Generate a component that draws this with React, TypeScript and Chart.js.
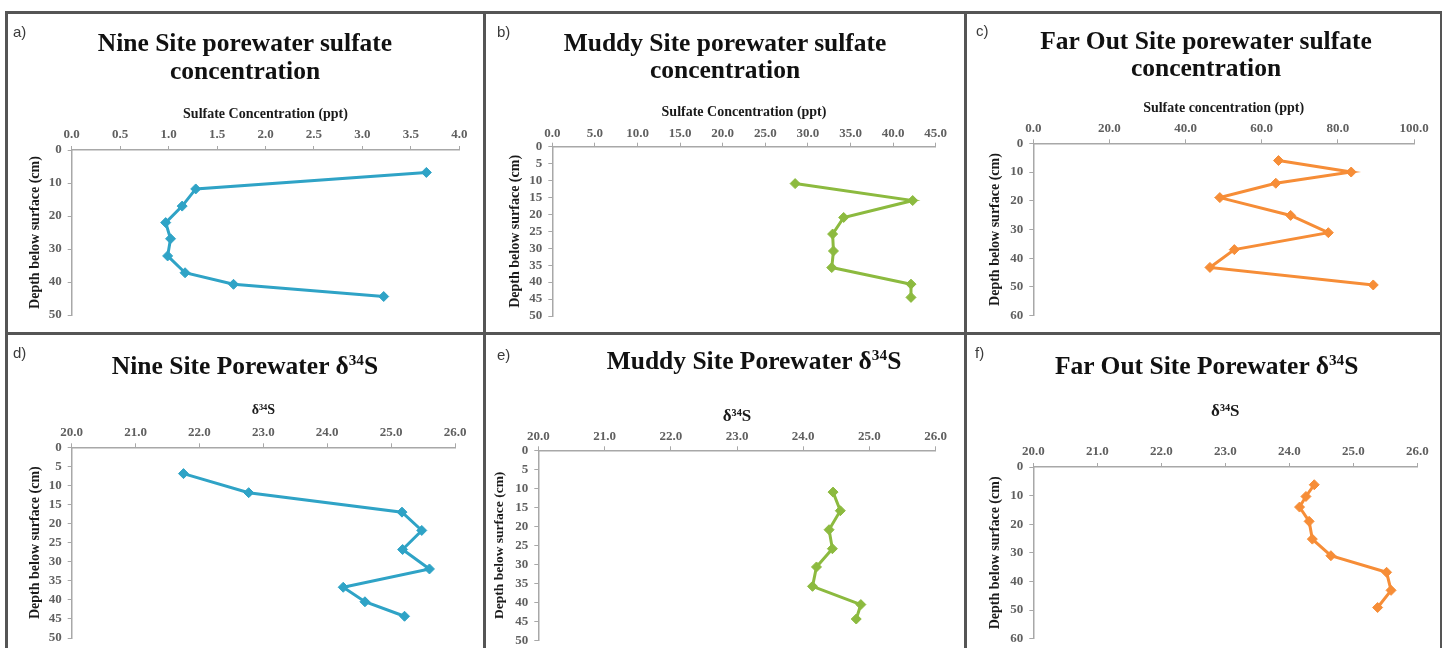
import React, { useEffect, useRef } from 'react';
import { Chart, registerables } from 'chart.js';
Chart.register(...registerables);

// ---- Data (x = value, y = depth below surface in cm) ----
const nineSulfateDepth = [6.8, 11.8, 17.0, 22.0, 26.9, 32.1, 37.2, 40.7, 44.4];
const nineSulfate = [3.66, 1.28, 1.14, 0.97, 1.02, 0.99, 1.17, 1.67, 3.22];

const muddySulfateDepth = [10.9, 15.9, 20.9, 25.8, 30.8, 35.7, 40.6, 44.5];
const muddySulfate = [28.5, 42.3, 34.2, 32.9, 33.0, 32.8, 42.1, 42.1];

const farSulfateDepth = [6.0, 10.0, 13.9, 18.9, 25.1, 31.1, 37.0, 43.2, 49.3];
const farSulfate = [64.4, 83.5, 63.7, 49.0, 67.6, 77.5, 52.8, 46.4, 89.3];

const nineD34SDepth = [6.9, 11.9, 17.0, 21.8, 26.8, 31.9, 36.7, 40.5, 44.3];
const nineD34S = [21.75, 22.77, 25.17, 25.48, 25.18, 25.6, 24.25, 24.59, 25.21];

const muddyD34SDepth = [11.0, 15.9, 20.9, 25.9, 30.7, 35.8, 40.6, 44.4];
const muddyD34S = [24.45, 24.56, 24.39, 24.44, 24.2, 24.14, 24.87, 24.8];

const farD34SDepth = [6.2, 10.3, 14.0, 19.0, 25.2, 31.0, 36.8, 43.1, 49.1];
const farD34S = [24.39, 24.26, 24.16, 24.31, 24.36, 24.65, 25.52, 25.59, 25.38];

const panelLabels = ['a)', 'b)', 'c)', 'd)', 'e)', 'f)'];
const yAxisTitle = 'Depth below surface (cm)';

const BLUE = '#2FA3C6';
const GREEN = '#8CBA3F';
const ORANGE = '#F68D37';
const AXIS = '#a8a8a8';
const SERIF = "'Liberation Serif', 'Times New Roman', serif";

type Spec = {
  label: string;
  labelPos: [number, number];
  titleLines: React.ReactNode[];
  titleCenters: number[];
  titleX: number;
  box: { x: number; y: number; w: number; h: number };
  plot: { l: number; r: number; t: number; b: number };
  xMin: number; xMax: number; xStep: number;
  yMax: number; yStep: number;
  xTitle: string; xTitleSize: number; xTitleY: number;
  yTitleX: number; yTitleSize: number;
  xTickY: number;
  color: string;
  xs: number[]; ys: number[];
};

const delta = (name: string) => (
  <span>{name} δ<sup style={{ fontSize: '0.6em', verticalAlign: '0.58em', lineHeight: 0 }}>34</sup>S</span>
);

const specs: Spec[] = [
  {
    label: panelLabels[0], labelPos: [13, 32],
    titleLines: ['Nine Site porewater sulfate', 'concentration'], titleCenters: [43, 71], titleX: 245,
    box: { x: 7, y: 13, w: 476, h: 319 }, plot: { l: 71.7, r: 459.3, t: 150, b: 315 },
    xMin: 0, xMax: 4, xStep: 0.5, yMax: 50, yStep: 10,
    xTitle: 'Sulfate Concentration (ppt)', xTitleSize: 14, xTitleY: 114,
    yTitleX: 35, yTitleSize: 14, xTickY: 135, color: BLUE, xs: nineSulfate, ys: nineSulfateDepth,
  },
  {
    label: panelLabels[1], labelPos: [497, 32],
    titleLines: ['Muddy Site porewater sulfate', 'concentration'], titleCenters: [42.7, 70], titleX: 725,
    box: { x: 486, y: 13, w: 477, h: 319 }, plot: { l: 552.3, r: 935.7, t: 146.7, b: 316 },
    xMin: 0, xMax: 45, xStep: 5, yMax: 50, yStep: 5,
    xTitle: 'Sulfate Concentration (ppt)', xTitleSize: 14, xTitleY: 112.3,
    yTitleX: 515.7, yTitleSize: 14, xTickY: 133.3, color: GREEN, xs: muddySulfate, ys: muddySulfateDepth,
  },
  {
    label: panelLabels[2], labelPos: [976, 31],
    titleLines: ['Far Out Site porewater sulfate', 'concentration'], titleCenters: [40.7, 68.3], titleX: 1206,
    box: { x: 967, y: 13, w: 473, h: 319 }, plot: { l: 1033.3, r: 1414, t: 143.3, b: 315.7 },
    xMin: 0, xMax: 100, xStep: 20, yMax: 60, yStep: 10,
    xTitle: 'Sulfate concentration (ppt)', xTitleSize: 14, xTitleY: 108.3,
    yTitleX: 995.7, yTitleSize: 14, xTickY: 128.3, color: ORANGE, xs: farSulfate, ys: farSulfateDepth,
  },
  {
    label: panelLabels[3], labelPos: [13, 353],
    titleLines: [delta('Nine Site Porewater')], titleCenters: [366.3], titleX: 245,
    box: { x: 7, y: 335, w: 476, h: 325 }, plot: { l: 71.7, r: 455, t: 447.3, b: 638 },
    xMin: 20, xMax: 26, xStep: 1, yMax: 50, yStep: 5,
    xTitle: 'δ³⁴S', xTitleSize: 14, xTitleY: 410.3,
    yTitleX: 35, yTitleSize: 14, xTickY: 432.3, color: BLUE, xs: nineD34S, ys: nineD34SDepth,
  },
  {
    label: panelLabels[4], labelPos: [497, 355],
    titleLines: [delta('Muddy Site Porewater')], titleCenters: [360.7], titleX: 754,
    box: { x: 486, y: 335, w: 477, h: 325 }, plot: { l: 538.3, r: 935.7, t: 450.3, b: 640.3 },
    xMin: 20, xMax: 26, xStep: 1, yMax: 50, yStep: 5,
    xTitle: 'δ³⁴S', xTitleSize: 17, xTitleY: 416.3,
    yTitleX: 500, yTitleSize: 13.5, xTickY: 437, color: GREEN, xs: muddyD34S, ys: muddyD34SDepth,
  },
  {
    label: panelLabels[5], labelPos: [975, 353],
    titleLines: [delta('Far Out Site Porewater')], titleCenters: [366.3], titleX: 1206.7,
    box: { x: 967, y: 335, w: 473, h: 325 }, plot: { l: 1033.3, r: 1417.3, t: 467, b: 638.7 },
    xMin: 20, xMax: 26, xStep: 1, yMax: 60, yStep: 10,
    xTitle: 'δ³⁴S', xTitleSize: 17, xTitleY: 411.3,
    yTitleX: 995.7, yTitleSize: 14, xTickY: 451.3, color: ORANGE, xs: farD34S, ys: farD34SDepth,
  },
];

const TICK_SIZE = 13;

function Panel({ s }: { s: Spec }) {
  const ref = useRef<HTMLCanvasElement>(null);
  useEffect(() => {
    const xAxisH = s.plot.t - s.box.y;
    const yAxisW = s.plot.l - s.box.x;
    const tickFont = { family: SERIF, size: TICK_SIZE, weight: 'bold' as const };
    const chart = new Chart(ref.current as HTMLCanvasElement, {
      type: 'scatter',
      data: {
        datasets: [{
          data: s.xs.map((x, i) => ({ x, y: s.ys[i] })),
          showLine: true,
          borderColor: s.color,
          backgroundColor: s.color,
          borderWidth: 3,
          pointStyle: 'rectRot',
          pointRadius: 5,
          pointHoverRadius: 5,
          pointBorderWidth: 1,
          pointBorderColor: s.color,
          pointBackgroundColor: s.color,
        }],
      },
      options: {
        responsive: false,
        animation: false,
        events: [],
        layout: {
          padding: {
            left: 0, top: 0,
            right: s.box.x + s.box.w - s.plot.r,
            bottom: s.box.y + s.box.h - s.plot.b,
          },
        },
        plugins: { legend: { display: false }, title: { display: false }, tooltip: { enabled: false } },
        scales: {
          x: {
            type: 'linear', position: 'top', min: s.xMin, max: s.xMax,
            afterFit: (sc: any) => { sc.height = xAxisH; },
            ticks: {
              stepSize: s.xStep, autoSkip: false, maxRotation: 0, minRotation: 0,
              padding: (s.plot.t - s.xTickY) - 4 - (TICK_SIZE * 1.2) / 2,
              font: tickFont, color: '#5f5f5f',
              callback: (v: any) => Number(v).toFixed(1),
            },
            grid: { display: true, drawOnChartArea: false, drawTicks: true, tickLength: 4, color: AXIS, lineWidth: 1 },
            border: { display: true, color: AXIS, width: 1.5 },
            title: {
              display: true, text: s.xTitle, color: '#1a1a1a',
              font: { family: SERIF, size: s.xTitleSize, weight: 'bold' },
              padding: { top: s.xTitleY - s.box.y - (s.xTitleSize * 1.2) / 2, bottom: 0 },
            },
          },
          y: {
            type: 'linear', reverse: true, min: 0, max: s.yMax,
            afterFit: (sc: any) => { sc.width = yAxisW; },
            ticks: {
              stepSize: s.yStep, autoSkip: false, padding: 6,
              font: tickFont, color: '#5f5f5f',
              callback: (v: any) => String(Math.round(Number(v))),
            },
            grid: { display: true, drawOnChartArea: false, drawTicks: true, tickLength: 4, color: AXIS, lineWidth: 1 },
            border: { display: true, color: AXIS, width: 1.5 },
            title: {
              display: true, text: yAxisTitle, color: '#1a1a1a',
              font: { family: SERIF, size: s.yTitleSize, weight: 'bold' },
              padding: { top: s.yTitleX - s.box.x - (s.yTitleSize * 1.2) / 2, bottom: 0 },
            },
          },
        },
      } as any,
    });
    return () => chart.destroy();
  }, [s]);
  return (
    <canvas
      ref={ref}
      width={s.box.w}
      height={s.box.h}
      style={{ position: 'absolute', left: s.box.x, top: s.box.y, width: s.box.w, height: s.box.h }}
    />
  );
}

const LINE = '#555555';

export default function App() {
  const lines = [
    { left: 5, top: 11, width: 1437, height: 3 },
    { left: 5, top: 332, width: 1437, height: 3 },
    { left: 5, top: 11, width: 3, height: 640 },
    { left: 483, top: 11, width: 3, height: 640 },
    { left: 964, top: 11, width: 3, height: 640 },
    { left: 1440, top: 11, width: 3, height: 640 },
  ];
  return (
    <div style={{ position: 'absolute', left: 0, top: 0, width: 1442, height: 648, overflow: 'hidden', background: '#fff' }}>
      {specs.map((s, i) => <Panel key={i} s={s} />)}
      {lines.map((l, i) => (
        <div key={'l' + i} style={{ position: 'absolute', background: LINE, ...l }} />
      ))}
      {specs.map((s, i) => (
        <div key={'lab' + i} style={{
          position: 'absolute', left: s.labelPos[0], top: s.labelPos[1] - 10, height: 20, lineHeight: '20px',
          fontFamily: "'Liberation Sans', Arial, sans-serif", fontSize: 15, color: '#3a3a3a',
        }}>{s.label}</div>
      ))}
      {specs.map((s, i) => s.titleLines.map((t, j) => (
        <div key={'t' + i + '-' + j} style={{
          position: 'absolute', left: s.titleX - 250, width: 500, top: s.titleCenters[j] - 14, height: 28,
          lineHeight: '28px', textAlign: 'center', fontFamily: SERIF, fontWeight: 'bold', fontSize: 25.5,
          color: '#111', whiteSpace: 'nowrap',
        }}>{t}</div>
      )))}
    </div>
  );
}
